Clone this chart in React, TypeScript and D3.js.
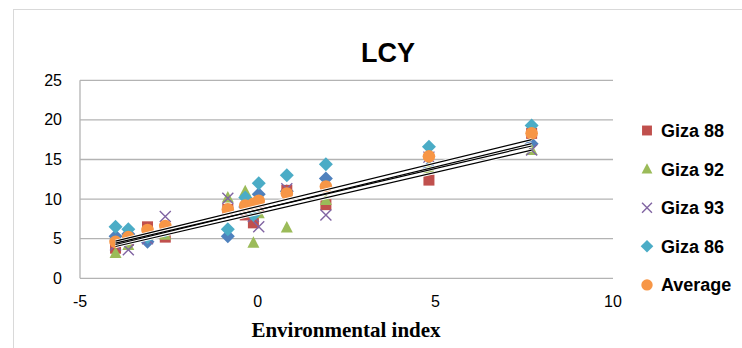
import React from "react";
import * as d3 from "d3";

const envIndex = [-4.0, -3.64, -3.1, -2.6, -0.84, -0.35, -0.12, 0.03, 0.82, 1.92, 4.82, 7.71];
const giza83 = [5.3, 5.6, 4.6, 6.0, 5.3, 9.0, 8.5, 10.6, 11.0, 12.6, 14.0, 17.0];
const giza88 = [3.8, 4.8, 6.5, 5.2, 8.7, 8.0, 7.0, 9.0, 11.1, 9.3, 12.4, 18.3];
const giza92 = [3.2, 4.2, 5.5, 5.5, 10.2, 11.0, 4.5, 8.2, 6.4, 9.9, 13.9, 16.2];
const giza93 = [4.2, 3.6, 5.0, 7.8, 10.1, 8.5, 7.8, 6.5, 11.3, 8.0, 15.3, 16.2];
const giza86 = [6.5, 6.2, 5.2, 6.0, 6.2, 10.2, 8.0, 12.0, 13.0, 14.4, 16.6, 19.3];
const average = [4.6, 5.2, 6.1, 6.6, 8.7, 9.2, 9.4, 9.8, 10.7, 11.6, 15.4, 18.3];

const xTicks = [-5, 0, 5, 10];
const yTicks = [0, 5, 10, 15, 20, 25];

type Shape = "square" | "triangle" | "x" | "diamond" | "circle";
const series: { name: string | null; values: number[]; color: string; shape: Shape; trend: boolean }[] = [
  { name: null, values: giza83, color: "#4F81BD", shape: "diamond", trend: true },
  { name: "Giza 88", values: giza88, color: "#C0504D", shape: "square", trend: true },
  { name: "Giza 92", values: giza92, color: "#9BBB59", shape: "triangle", trend: true },
  { name: "Giza 93", values: giza93, color: "#8064A2", shape: "x", trend: true },
  { name: "Giza 86", values: giza86, color: "#4BACC6", shape: "diamond", trend: false },
  { name: "Average", values: average, color: "#F79646", shape: "circle", trend: false },
];

function Marker({ shape, cx, cy, color, s = 1 }: { shape: Shape; cx: number; cy: number; color: string; s?: number }) {
  if (shape === "square") return <rect x={cx - 5.5 * s} y={cy - 5.5 * s} width={11 * s} height={11 * s} fill={color} />;
  if (shape === "triangle")
    return <path d={`M${cx},${cy - 6.5 * s}L${cx + 6 * s},${cy + 5 * s}L${cx - 6 * s},${cy + 5 * s}Z`} fill={color} />;
  if (shape === "diamond")
    return <path d={`M${cx},${cy - 7 * s}L${cx + 7 * s},${cy}L${cx},${cy + 7 * s}L${cx - 7 * s},${cy}Z`} fill={color} />;
  if (shape === "circle") return <circle cx={cx} cy={cy} r={6.3 * s} fill={color} />;
  const r = 5.5 * s;
  return (
    <path d={`M${cx - r},${cy - r}L${cx + r},${cy + r}M${cx + r},${cy - r}L${cx - r},${cy + r}`} stroke={color} strokeWidth={1.4} fill="none" />
  );
}

function regression(xs: number[], ys: number[]) {
  const mx = d3.mean(xs)!;
  const my = d3.mean(ys)!;
  let sxy = 0, sxx = 0;
  xs.forEach((x, i) => {
    sxy += (x - mx) * (ys[i] - my);
    sxx += (x - mx) * (x - mx);
  });
  const b = sxy / sxx;
  return { a: my - b * mx, b };
}

export default function App() {
  const W = 742, H = 348;
  const x = d3.scaleLinear().domain([-5, 10]).range([80, 613]);
  const y = d3.scaleLinear().domain([0, 25]).range([278.3, 80.3]);
  const [xmin, xmax] = d3.extent(envIndex) as [number, number];
  const line = d3.line<[number, number]>().x((d) => x(d[0])).y((d) => y(d[1]));
  const tickFont = "'Liberation Sans', Arial, sans-serif";
  const legendItems = series.filter((s) => s.name);
  const trends = series
    .filter((s) => s.trend)
    .map((s) => {
      const { a, b } = regression(envIndex, s.values);
      const pts: [number, number][] = [
        [xmin, a + b * xmin],
        [xmax, a + b * xmax],
      ];
      return line(pts)!;
    });

  return (
    <svg width={W} height={H} style={{ position: "absolute", left: 0, top: 0, display: "block", background: "#fff" }}>
      <rect x={0} y={0} width={W} height={H} fill="#fff" />
      <rect x={13.5} y={9.5} width={900} height={500} fill="#fff" stroke="#d9d9d9" strokeWidth={1} />
      <text x={388} y={62} textAnchor="middle" fontFamily={tickFont} fontWeight="bold" fontSize={27} fill="#000">
        LCY
      </text>
      {yTicks.map((t) => (
        <line key={"g" + t} x1={80} x2={613} y1={y(t)} y2={y(t)} stroke="#b3b3b3" strokeWidth={1.3} />
      ))}
      <line x1={80} x2={80} y1={y(25)} y2={y(0)} stroke="#b3b3b3" strokeWidth={1.3} />
      {yTicks.map((t) => (
        <text key={"y" + t} x={62} y={y(t) + 5.5} textAnchor="end" fontFamily={tickFont} fontSize={16} fill="#000">
          {t}
        </text>
      ))}
      {xTicks.map((t) => (
        <text key={"x" + t} x={x(t)} y={307} textAnchor="middle" fontFamily={tickFont} fontSize={16} fill="#000">
          {t}
        </text>
      ))}
      <text x={346} y={337} textAnchor="middle" fontFamily="'Liberation Serif', 'Times New Roman', serif" fontWeight="bold" fontSize={21} fill="#000">
        Environmental index
      </text>
      {series.map((s, si) => (
        <g key={"s" + si}>
          {s.values.map((v, i) => (
            <Marker key={i} shape={s.shape} cx={x(envIndex[i])} cy={y(v)} color={s.color} />
          ))}
        </g>
      ))}
      {trends.map((d, i) => (
        <path key={"w" + i} d={d} stroke="#fff" strokeWidth={3} fill="none" />
      ))}
      {trends.map((d, i) => (
        <path key={"t" + i} d={d} stroke="#000" strokeWidth={1.2} fill="none" />
      ))}
      {legendItems.map((s, i) => {
        const cy = 130.5 + i * 38.6;
        return (
          <g key={"l" + i}>
            <Marker shape={s.shape} cx={647} cy={cy} color={s.color} s={0.9} />
            <text x={661} y={cy + 6.5} fontFamily={tickFont} fontWeight="bold" fontSize={18} fill="#000">
              {s.name}
            </text>
          </g>
        );
      })}
    </svg>
  );
}
